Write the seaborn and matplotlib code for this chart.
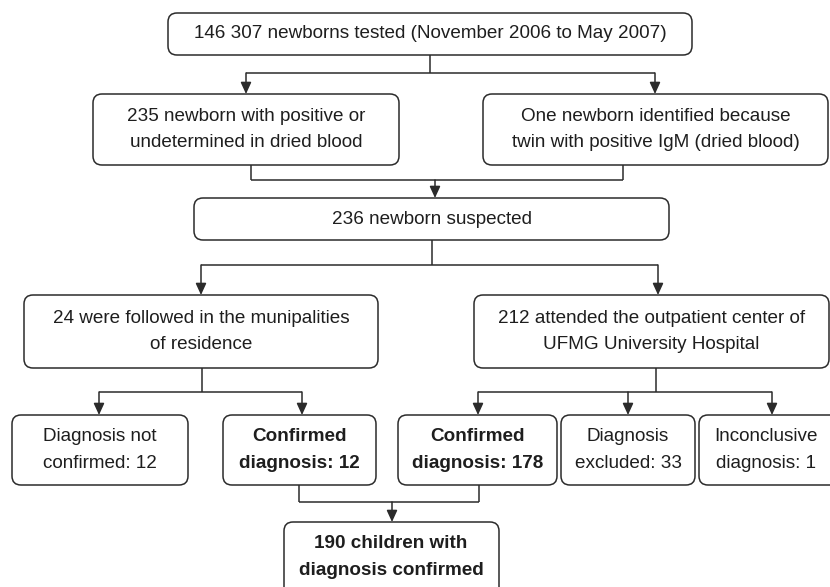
import matplotlib
matplotlib.use("Agg")
import matplotlib.pyplot as plt
from matplotlib.patches import FancyBboxPatch
import seaborn as sns

# ---- data (counts shown in the flowchart) ----
n_tested = 146307
period = ("November 2006", "May 2007")
n_positive = 235
n_twin = 1
n_suspected = 236
n_followed = 24
n_attended = 212
n_not_confirmed = 12
n_confirmed_local = 12
n_confirmed_hosp = 178
n_excluded = 33
n_inconclusive = 1
n_total_confirmed = 190

def fmt(n):
    return f"{n:,}".replace(",", " ")

labels = {
    "tested": f"{fmt(n_tested)} newborns tested ({period[0]} to {period[1]})",
    "positive": f"{n_positive} newborn with positive or\nundetermined in dried blood",
    "twin": "One newborn identified because\ntwin with positive IgM (dried blood)",
    "suspected": f"{n_suspected} newborn suspected",
    "followed": f"{n_followed} were followed in the munipalities\nof residence",
    "attended": f"{n_attended} attended the outpatient center of\nUFMG University Hospital",
    "notconf": f"Diagnosis not\nconfirmed: {n_not_confirmed}",
    "conf12": f"Confirmed\ndiagnosis: {n_confirmed_local}",
    "conf178": f"Confirmed\ndiagnosis: {n_confirmed_hosp}",
    "excluded": f"Diagnosis\nexcluded: {n_excluded}",
    "inconcl": f"Inconclusive\ndiagnosis: {n_inconclusive}",
    "total": f"{n_total_confirmed} children with\ndiagnosis confirmed",
}
bold_nodes = ["conf12", "conf178", "total"]

# ---- layout (pixel coordinates: x0, x1, y0, y1) ----
boxes = {
    "tested": (168, 692, 13, 55),
    "positive": (93, 399, 94, 165),
    "twin": (483, 828, 94, 165),
    "suspected": (194, 669, 198, 240),
    "followed": (24, 378, 295, 368),
    "attended": (474, 829, 295, 368),
    "notconf": (12, 188, 415, 485),
    "conf12": (223, 376, 415, 485),
    "conf178": (398, 557, 415, 485),
    "excluded": (561, 695, 415, 485),
    "inconcl": (699, 845, 415, 485),
    "total": (284, 499, 522, 600),
}
text_pos = {"inconcl": (766, 450), "total": (391, 557)}

sns.set_style("white")
plt.rcParams["font.family"] = ["Liberation Sans", "DejaVu Sans"]

W, H = 830, 587
fig = plt.figure(figsize=(W / 100, H / 100), dpi=100)
ax = fig.add_axes([0, 0, 1, 1])
ax.set_xlim(0, W)
ax.set_ylim(H, 0)
ax.axis("off")

LC = "#2b2b2b"
LW = 1.1
FS = 13.6

for key, (x0, x1, y0, y1) in boxes.items():
    p = FancyBboxPatch((x0, y0), x1 - x0, y1 - y0,
                       boxstyle="round,pad=0,rounding_size=9",
                       fc="white", ec=LC, lw=LW, zorder=2)
    ax.add_patch(p)
    tx, ty = text_pos.get(key, ((x0 + x1) / 2, (y0 + y1) / 2))
    ax.text(tx, ty, labels[key],
            ha="center", va="center", fontsize=FS, color="#1e1e1e",
            fontweight="bold" if key in bold_nodes else "normal",
            linespacing=1.72, zorder=3)


def line(xs, ys):
    ax.plot(xs, ys, color=LC, lw=LW, solid_capstyle="butt", zorder=1)


def arrow(x, y0, y1):
    ax.annotate("", xy=(x, y1), xytext=(x, y0),
                arrowprops=dict(arrowstyle="-|>,head_length=0.7,head_width=0.32",
                                color=LC, lw=LW, shrinkA=0, shrinkB=0,
                                mutation_scale=10), zorder=1)


# tested -> split
line([430, 430], [55, 73])
line([246, 655], [73, 73])
arrow(246, 73, 94)
arrow(655, 73, 94)

# merge -> suspected
line([251, 251], [165, 180])
line([623, 623], [165, 180])
line([251, 623], [180, 180])
arrow(435, 180, 198)

# suspected -> split
line([432, 432], [240, 265])
line([201, 658], [265, 265])
arrow(201, 265, 295)
arrow(658, 265, 295)

# followed -> two
line([202, 202], [368, 392])
line([99, 302], [392, 392])
arrow(99, 392, 415)
arrow(302, 392, 415)

# attended -> three
line([656, 656], [368, 392])
line([478, 772], [392, 392])
arrow(478, 392, 415)
arrow(628, 392, 415)
arrow(772, 392, 415)

# confirmed -> total
line([299, 299], [485, 502])
line([479, 479], [485, 502])
line([299, 479], [502, 502])
arrow(392, 502, 522)

fig.savefig("out.png", dpi=100)
